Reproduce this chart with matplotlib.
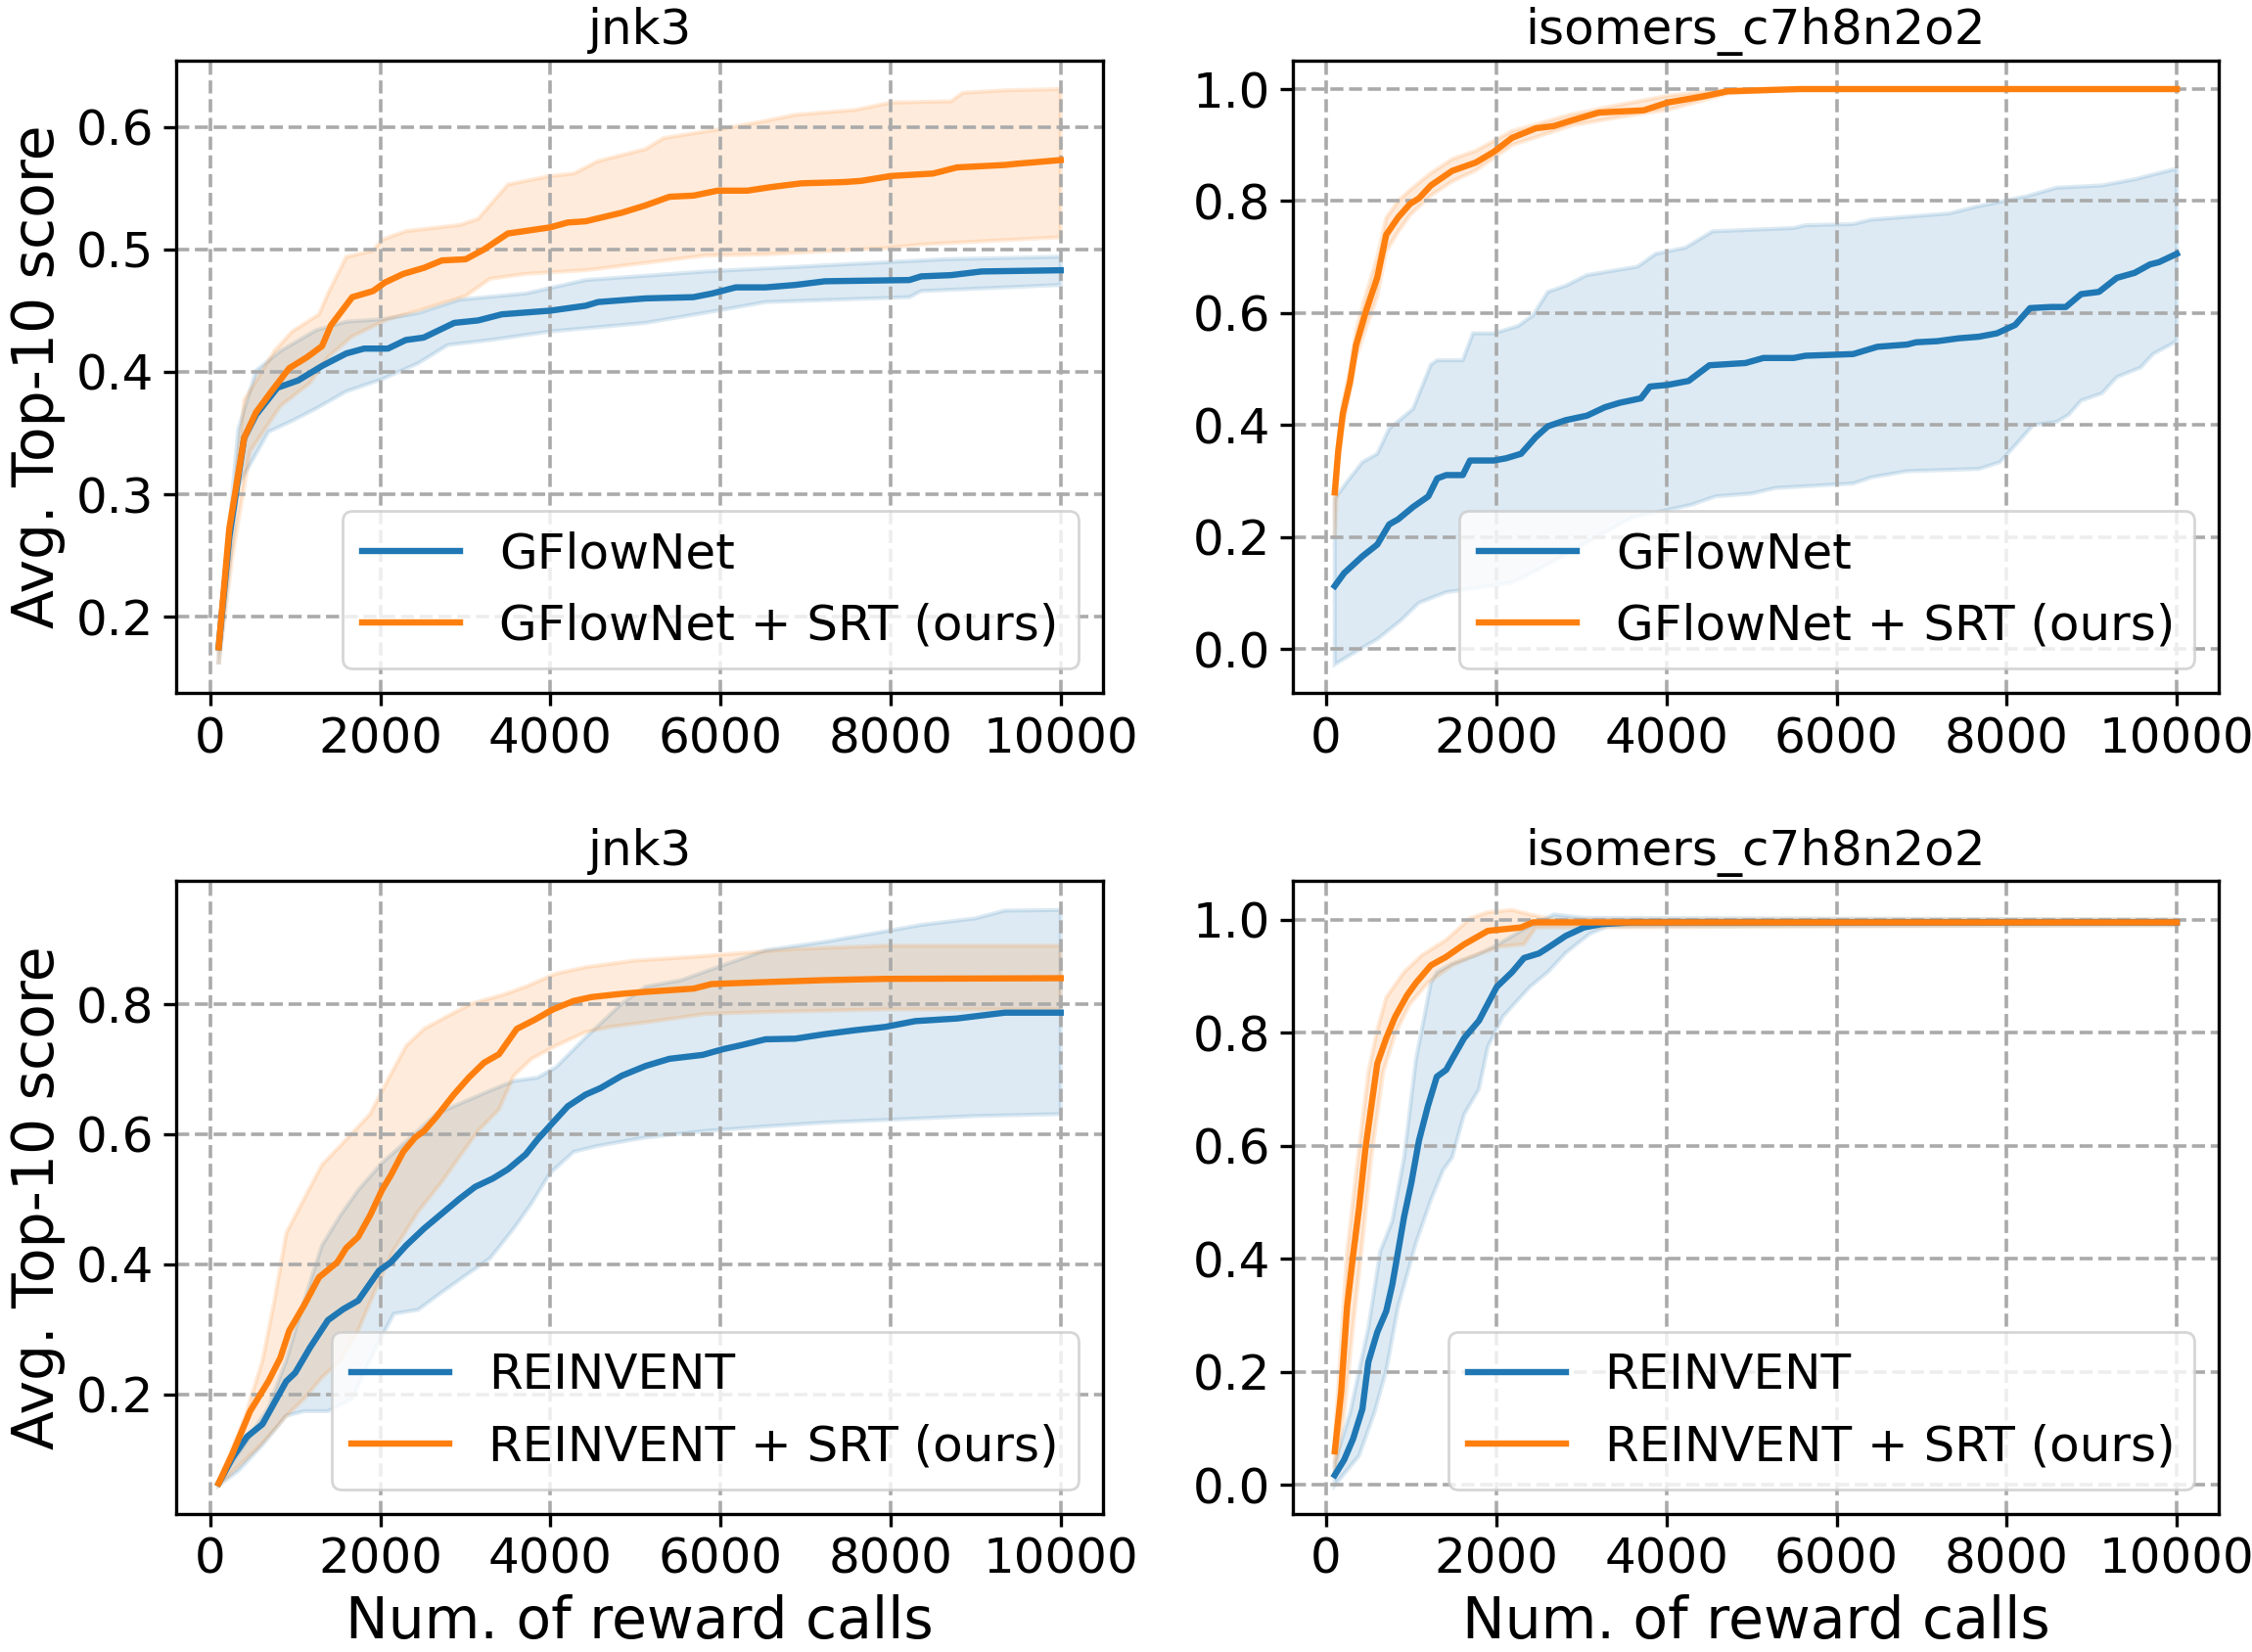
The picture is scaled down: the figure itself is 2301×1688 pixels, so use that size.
import numpy as np
import matplotlib
matplotlib.use('Agg')
import matplotlib.pyplot as plt

# ---- top-left: jnk3, GFlowNet ----
tl_gfn_x = [100, 225, 400, 540, 790, 1035, 1320, 1600, 1810, 2090, 2300, 2510, 2870, 3150, 3430, 4000, 4415, 4560,
            5120, 5680, 5900, 6180, 6530, 6880, 7230, 8220, 8360, 8710, 9070, 10000]
tl_gfn_y = [.175, .265, .346, .365, .387, .393, .405, .415, .419, .419, .426, .428, .440, .442, .447, .450, .454, .457,
            .460, .461, .464, .469, .469, .471, .474, .475, .478, .479, .482, .483]
tl_gfn_hi_x = [100, 330, 540, 825, 1245, 1600, 2020, 2445, 2935, 3710, 4415, 5825, 7230, 8640, 10000]
tl_gfn_hi_y = [.178, .353, .401, .417, .434, .441, .443, .448, .459, .464, .475, .482, .487, .492, .494]
tl_gfn_lo_x = [100, 330, 685, 965, 1245, 1600, 2020, 2445, 2795, 3290, 3995, 5120, 5965, 6530, 8220, 8360, 10000]
tl_gfn_lo_y = [.161, .307, .351, .360, .370, .384, .394, .407, .422, .426, .433, .440, .450, .457, .461, .466, .471]

tl_srt_x = [100, 225, 400, 540, 720, 930, 1140, 1315, 1420, 1670, 1915, 2055, 2270, 2515, 2725, 3005, 3220, 3500,
            3995, 4205, 4415, 4840, 5120, 5400, 5685, 5965, 6315, 6600, 6950, 7445, 7655, 8005, 8500, 8780, 9345,
            9485, 10000]
tl_srt_y = [.175, .272, .346, .367, .384, .403, .412, .421, .438, .461, .466, .473, .480, .485, .491, .492, .500, .513,
            .518, .522, .523, .530, .536, .543, .544, .548, .548, .551, .554, .555, .556, .560, .562, .567, .569,
            .570, .573]
tl_srt_hi_x = [100, 400, 755, 965, 1280, 1385, 1600, 1915, 2020, 2305, 2935, 3150, 3500, 3995, 4275, 4555, 5120, 5330,
               5965, 6530, 6880, 7585, 8005, 8710, 8850, 9345, 10000]
tl_srt_hi_y = [.180, .377, .417, .433, .447, .464, .494, .499, .508, .515, .520, .525, .553, .560, .562, .572, .582, .591,
               .598, .605, .610, .614, .620, .621, .628, .630, .631]
tl_srt_lo_x = [100, 260, 470, 825, 1175, 1385, 1670, 2090, 2445, 3005, 3290, 3710, 4415, 5120, 5825, 6530, 7935, 8360,
               10000]
tl_srt_lo_y = [.161, .248, .335, .372, .391, .412, .429, .443, .450, .462, .476, .480, .483, .489, .495, .496, .501, .504,
               .510]

# ---- top-right: isomers_c7h8n2o2, GFlowNet ----
tr_gfn_x = [100, 210, 425, 600, 740, 845, 1020, 1200, 1305, 1410, 1605, 1690, 1970, 2115, 2290, 2465, 2605, 2815, 3065,
            3275, 3450, 3700, 3805, 4015, 4260, 4505, 4930, 5140, 5495, 5635, 6195, 6480, 6830, 6935, 7185, 7430, 7675,
            7885, 8100, 8275, 8520, 8695, 8875, 9085, 9295, 9505, 9685, 9790, 10000]
tr_gfn_y = [.113, .136, .166, .187, .223, .232, .254, .273, .305, .311, .311, .337, .337, .341, .349, .379, .398, .409, .417,
            .432, .440, .448, .469, .472, .479, .507, .511, .520, .520, .524, .527, .540, .544, .548, .550, .555, .558,
            .564, .579, .609, .611, .611, .634, .638, .663, .672, .687, .691, .706]
tr_gfn_hi_x = [100, 245, 425, 600, 740, 1020, 1230, 1305, 1605, 1725, 1970, 2255, 2430, 2605, 2815, 3065, 3660, 3875,
               4225, 4540, 5495, 5635, 6195, 6410, 7325, 7640, 8240, 8590, 9120, 9505, 10000]
tr_gfn_hi_y = [.269, .299, .334, .349, .394, .429, .508, .516, .516, .564, .564, .577, .596, .638, .649, .668, .683, .706,
               .717, .746, .752, .757, .759, .767, .778, .790, .809, .824, .828, .839, .858]
tr_gfn_lo_x = [100, 425, 600, 880, 1090, 1410, 1760, 2185, 2465, 3590, 4295, 4575, 5000, 5280, 6195, 6410, 6830, 7675,
               7920, 8100, 8310, 8590, 8730, 8875, 9120, 9295, 9575, 9720, 10000]
tr_gfn_lo_y = [-.027, .003, .018, .052, .083, .102, .109, .119, .140, .235, .258, .273, .278, .288, .296, .307, .318, .322,
               .334, .364, .400, .406, .419, .444, .457, .486, .503, .527, .550]

tr_srt_x = [100, 140, 195, 280, 350, 460, 600, 705, 845, 985, 1090, 1230, 1480, 1760, 1970, 2185, 2465, 2675, 2885, 3205,
            3450, 3730, 4015, 4435, 4720, 5565, 10000]
tr_srt_y = [.280, .353, .421, .478, .543, .600, .664, .740, .771, .795, .805, .828, .854, .869, .888, .913, .930, .934,
            .944, .958, .960, .962, .976, .987, .996, 1.0, 1.0]
tr_srt_band_x = [100, 140, 195, 280, 350, 460, 600, 705, 845, 985, 1230, 1480, 1760, 2185, 2885, 3450, 4015, 4435, 4720,
                 5565, 10000]
tr_srt_hi_y = [.29, .37, .44, .50, .57, .63, .70, .77, .80, .82, .85, .875, .89, .925, .955, .972, .988, .995, 1.0, 1.0, 1.0]
tr_srt_lo_y = [.20, .33, .40, .46, .52, .57, .63, .71, .745, .775, .81, .835, .855, .90, .935, .950, .963, .980, .992, 1.0,
               1.0]

# ---- bottom-left: jnk3, REINVENT ----
bl_rei_x = [100, 260, 435, 615, 755, 895, 1000, 1175, 1385, 1565, 1740, 1985, 2125, 2305, 2515, 2725, 2935, 3115, 3325,
            3500, 3710, 3850, 4030, 4205, 4415, 4590, 4840, 5120, 5400, 5790, 6035, 6245, 6530, 6880, 7230, 7585, 7935,
            8290, 8780, 9345, 10000]
bl_rei_y = [.063, .102, .135, .154, .187, .220, .233, .272, .314, .331, .344, .390, .403, .429, .455, .478, .501, .519, .532,
            .546, .569, .592, .618, .643, .661, .671, .690, .705, .716, .722, .731, .737, .746, .747, .754, .760, .765,
            .774, .778, .787, .787]
bl_rei_hi_x = [100, 400, 685, 895, 1105, 1315, 1530, 1740, 2020, 2305, 2655, 3005, 3290, 3570, 3850, 4065, 4415, 4840,
               5120, 5540, 5965, 6530, 7230, 7935, 8360, 8995, 9345, 10000]
bl_rei_hi_y = [.065, .122, .180, .252, .344, .429, .475, .514, .556, .589, .631, .651, .667, .682, .687, .703, .749, .801,
               .827, .837, .857, .883, .896, .912, .922, .932, .944, .945]
bl_rei_lo_x = [100, 330, 615, 895, 1105, 1385, 1670, 1950, 2160, 2445, 2725, 3005, 3290, 3570, 3780, 3995, 4275, 4555,
               5120, 5825, 6530, 7230, 7935, 8995, 10000]
bl_rei_lo_y = [.060, .082, .122, .167, .174, .174, .193, .272, .324, .330, .357, .383, .409, .455, .494, .540, .573, .582,
               .595, .605, .612, .618, .622, .628, .631]

bl_srt_x = [100, 260, 470, 685, 825, 930, 1105, 1280, 1495, 1600, 1740, 1880, 2020, 2125, 2270, 2410, 2515, 2655, 2865,
            3040, 3220, 3395, 3605, 3815, 4030, 4275, 4485, 4840, 5120, 5685, 5895, 6530, 7230, 7935, 10000]
bl_srt_y = [.063, .108, .174, .220, .256, .298, .337, .380, .403, .425, .442, .475, .514, .537, .573, .595, .605, .626,
            .661, .687, .710, .723, .762, .776, .792, .805, .811, .816, .819, .824, .831, .834, .837, .839, .840]
bl_srt_hi_x = [100, 400, 615, 755, 895, 1105, 1315, 1600, 1880, 2090, 2305, 2515, 2795, 3075, 3430, 3710, 4065, 4415,
               4980, 5685, 6175, 6880, 7935, 10000]
bl_srt_hi_y = [.065, .161, .252, .344, .448, .501, .553, .592, .631, .684, .736, .762, .782, .801, .814, .827, .847, .857,
               .867, .873, .878, .885, .890, .890]
bl_srt_lo_x = [100, 330, 540, 685, 895, 1105, 1315, 1530, 1740, 1950, 2160, 2445, 2725, 2935, 3150, 3395, 3570, 3780,
               4065, 4415, 4695, 5120, 5825, 6530, 7935, 10000]
bl_srt_lo_y = [.060, .089, .115, .135, .167, .193, .226, .252, .298, .363, .422, .481, .527, .566, .605, .638, .690, .716,
               .736, .757, .765, .772, .785, .788, .792, .792]

# ---- bottom-right: isomers_c7h8n2o2, REINVENT ----
br_rei_x = [100, 210, 315, 425, 495, 600, 705, 775, 845, 915, 1000, 1090, 1195, 1300, 1410, 1480, 1620, 1795, 2005, 2185,
            2325, 2500, 2605, 2815, 3030, 3240, 3590, 10000]
br_rei_y = [.017, .044, .081, .134, .217, .270, .307, .353, .413, .474, .534, .609, .670, .722, .734, .753, .790, .821,
            .881, .907, .932, .940, .950, .971, .986, .992, .995, .995]
br_rei_hi_x = [100, 280, 495, 635, 775, 915, 1055, 1230, 1300, 1480, 1760, 1970, 2325, 2675, 3030, 10000]
br_rei_hi_y = [.04, .127, .278, .413, .466, .579, .753, .888, .907, .922, .937, .952, .983, 1.009, 1.003, 1.0]
br_rei_lo_x = [100, 385, 565, 705, 845, 1055, 1230, 1375, 1480, 1620, 1795, 1900, 2075, 2255, 2395, 2605, 2815, 3100,
               3310, 10000]
br_rei_lo_y = [-.001, .051, .127, .202, .315, .428, .504, .557, .579, .655, .700, .775, .828, .858, .881, .907, .941, .975,
               .988, .99]

br_srt_x = [100, 175, 245, 315, 385, 460, 530, 600, 705, 810, 950, 1055, 1230, 1410, 1620, 1900, 2290, 2430, 10000]
br_srt_y = [.059, .164, .315, .406, .489, .594, .670, .745, .790, .828, .866, .888, .919, .934, .956, .980, .986, .995, .995]
br_srt_hi_x = [100, 245, 385, 495, 600, 705, 915, 1125, 1410, 1690, 1900, 2185, 2395, 2675, 10000]
br_srt_hi_y = [.08, .413, .594, .730, .805, .862, .907, .937, .964, 1.002, 1.013, 1.017, 1.009, 1.0, 1.0]
br_srt_lo_x = [100, 210, 315, 425, 530, 670, 810, 985, 1195, 1480, 1760, 2040, 2325, 2465, 10000]
br_srt_lo_y = [.021, .127, .278, .428, .579, .730, .798, .851, .888, .919, .937, .952, .956, .986, .99]

titles = ['jnk3', 'isomers_c7h8n2o2', 'jnk3', 'isomers_c7h8n2o2']
labels_top = ['GFlowNet', 'GFlowNet + SRT (ours)']
labels_bot = ['REINVENT', 'REINVENT + SRT (ours)']

BLUE = '#1f77b4'
ORANGE = '#ff7f0e'
FS = 18
LFS = 21

plt.rcParams['axes.linewidth'] = 1.2
plt.rcParams['xtick.major.size'] = 4.7
plt.rcParams['ytick.major.size'] = 4.7
plt.rcParams['xtick.major.width'] = 1.2
plt.rcParams['ytick.major.width'] = 1.2


def draw(ax, x, y, hx, hy, lx, ly, color, label):
    # band as polygon: upper edge forward, lower edge back
    px = np.concatenate([hx, lx[::-1]])
    py = np.concatenate([hy, ly[::-1]])
    ax.fill(px, py, color=color, alpha=0.15, lw=1.5)
    ax.plot(x, y, color=color, lw=2.3, label=label)


fig, axes = plt.subplots(2, 2, figsize=(11.505, 8.44), dpi=200)
fig.subplots_adjust(left=0.0784, right=0.9853, top=0.9635, bottom=0.0835, wspace=0.205, hspace=0.297)

a = axes[0, 0]
draw(a, tl_gfn_x, tl_gfn_y, tl_gfn_hi_x, tl_gfn_hi_y, tl_gfn_lo_x, tl_gfn_lo_y, BLUE, labels_top[0])
draw(a, tl_srt_x, tl_srt_y, tl_srt_hi_x, tl_srt_hi_y, tl_srt_lo_x, tl_srt_lo_y, ORANGE, labels_top[1])
a.set_yticks([0.2, 0.3, 0.4, 0.5, 0.6])

a = axes[0, 1]
draw(a, tr_gfn_x, tr_gfn_y, tr_gfn_hi_x, tr_gfn_hi_y, tr_gfn_lo_x, tr_gfn_lo_y, BLUE, labels_top[0])
draw(a, tr_srt_x, tr_srt_y, tr_srt_band_x, tr_srt_hi_y, tr_srt_band_x, tr_srt_lo_y, ORANGE, labels_top[1])
a.set_yticks([0.0, 0.2, 0.4, 0.6, 0.8, 1.0])

a = axes[1, 0]
draw(a, bl_rei_x, bl_rei_y, bl_rei_hi_x, bl_rei_hi_y, bl_rei_lo_x, bl_rei_lo_y, BLUE, labels_bot[0])
draw(a, bl_srt_x, bl_srt_y, bl_srt_hi_x, bl_srt_hi_y, bl_srt_lo_x, bl_srt_lo_y, ORANGE, labels_bot[1])
a.set_yticks([0.2, 0.4, 0.6, 0.8])

a = axes[1, 1]
draw(a, br_rei_x, br_rei_y, br_rei_hi_x, br_rei_hi_y, br_rei_lo_x, br_rei_lo_y, BLUE, labels_bot[0])
draw(a, br_srt_x, br_srt_y, br_srt_hi_x, br_srt_hi_y, br_srt_lo_x, br_srt_lo_y, ORANGE, labels_bot[1])
a.set_yticks([0.0, 0.2, 0.4, 0.6, 0.8, 1.0])

for i, ax in enumerate(axes.flat):
    ax.set_title(titles[i], fontsize=FS)
    ax.set_xticks([0, 2000, 4000, 6000, 8000, 10000])
    ax.tick_params(labelsize=FS)
    ax.grid(True, ls='--', color='#aaaaaa', lw=1.3)
    ax.legend(loc='lower right', fontsize=FS)

for ax in axes[:, 0]:
    ax.set_ylabel('Avg. Top-10 score', fontsize=LFS)
for ax in axes[1, :]:
    ax.set_xlabel('Num. of reward calls', fontsize=LFS)

fig.savefig('out.png', dpi=200)
